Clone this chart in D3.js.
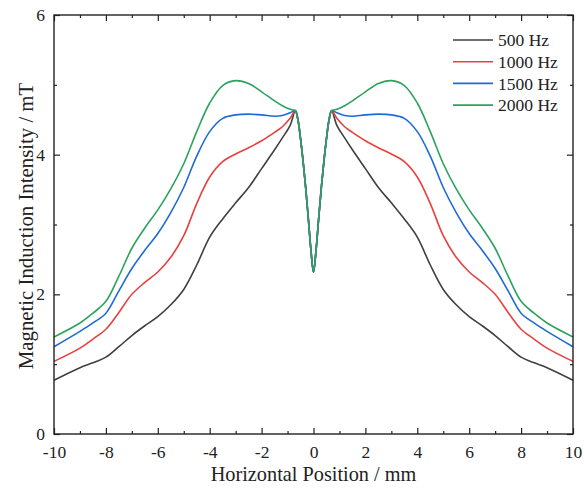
<!DOCTYPE html>
<html><head><meta charset="utf-8">
<script src="https://cdn.jsdelivr.net/npm/d3@7"></script>
<style>body{margin:0;background:#fff}svg{display:block}</style>
</head><body>
<svg id="chart" width="584" height="489"></svg>
<script>
const xPos = [-10,-9,-8.5,-8,-7.5,-7,-6.5,-6,-5.5,-5,-4.5,-4,-3.5,-3,-2.5,-2,-1.5,-1.2,-0.9,-0.7,-0.6,-0.5,-0.4,-0.3,-0.2,-0.1,0,
              0.1,0.2,0.3,0.4,0.5,0.6,0.7,0.9,1.2,1.5,2,2.5,3,3.5,4,4.5,5,5.5,6,6.5,7,7.5,8,8.5,9,10];
const hz500  = [0.77,0.95,1.02,1.10,1.25,1.41,1.55,1.68,1.85,2.07,2.42,2.82,3.08,3.31,3.53,3.80,4.07,4.24,4.42,4.63,4.50,4.23,3.90,3.52,3.09,2.64,2.32,
                2.64,3.09,3.52,3.90,4.23,4.50,4.63,4.42,4.24,4.07,3.80,3.53,3.31,3.08,2.82,2.42,2.07,1.85,1.68,1.55,1.41,1.25,1.10,1.02,0.95,0.77];
const hz1000 = [1.04,1.23,1.36,1.50,1.74,2.00,2.17,2.32,2.53,2.84,3.30,3.68,3.90,4.01,4.10,4.20,4.32,4.40,4.52,4.63,4.50,4.23,3.90,3.52,3.09,2.64,2.32,
                2.64,3.09,3.52,3.90,4.23,4.50,4.63,4.52,4.40,4.32,4.20,4.10,4.01,3.90,3.68,3.30,2.84,2.53,2.32,2.17,2.00,1.74,1.50,1.36,1.23,1.04];
const hz1500 = [1.25,1.47,1.59,1.73,2.05,2.37,2.63,2.87,3.17,3.53,3.98,4.33,4.52,4.57,4.58,4.57,4.55,4.56,4.60,4.63,4.50,4.23,3.90,3.52,3.09,2.64,2.32,
                2.64,3.09,3.52,3.90,4.23,4.50,4.63,4.60,4.56,4.55,4.57,4.58,4.57,4.52,4.33,3.98,3.53,3.17,2.87,2.63,2.37,2.05,1.73,1.59,1.47,1.25];
const hz2000 = [1.39,1.59,1.73,1.90,2.26,2.66,2.95,3.21,3.51,3.87,4.33,4.74,4.99,5.06,5.02,4.90,4.77,4.70,4.65,4.63,4.50,4.23,3.90,3.52,3.09,2.64,2.32,
                2.64,3.09,3.52,3.90,4.23,4.50,4.63,4.65,4.70,4.77,4.90,5.02,5.06,4.99,4.74,4.33,3.87,3.51,3.21,2.95,2.66,2.26,1.90,1.73,1.59,1.39];
const seriesNames = ["500 Hz","1000 Hz","1500 Hz","2000 Hz"];
const seriesColors = ["#404040","#e8413f","#1f6bd6","#2ba25e"];
const xTicks = [-10,-8,-6,-4,-2,0,2,4,6,8,10];
const xMinor = [-9,-7,-5,-3,-1,1,3,5,7,9];
const yTicks = [0,2,4,6];
const yMinor = [1,3,5];

const series = [hz500,hz1000,hz1500,hz2000];
const svg = d3.select("#chart");
const L=54, R=573, T=15, B=434;
const x = d3.scaleLinear().domain([-10,10]).range([L,R]);
const y = d3.scaleLinear().domain([0,6]).range([B,T]);
const font = "'Liberation Serif','Times New Roman',serif";

function axisGroup(axis, tx, ty){
  const g = svg.append("g").attr("transform",`translate(${tx},${ty})`).call(axis);
  g.select(".domain").remove();
  g.selectAll("line").attr("stroke","#222").attr("stroke-width",1.2);
  g.selectAll("text").attr("font-family",font).attr("font-size",17.5).attr("fill","#222");
  return g;
}
const fmt = d => String(d);
axisGroup(d3.axisBottom(x).tickValues(xTicks).tickSizeInner(-6).tickSizeOuter(0).tickPadding(12).tickFormat(fmt),0,B);
axisGroup(d3.axisBottom(x).tickValues(xMinor).tickSizeInner(-3).tickSizeOuter(0).tickFormat(""),0,B);
axisGroup(d3.axisTop(x).tickValues(xTicks).tickSizeInner(-6).tickSizeOuter(0).tickFormat(""),0,T);
axisGroup(d3.axisTop(x).tickValues(xMinor).tickSizeInner(-3).tickSizeOuter(0).tickFormat(""),0,T);
axisGroup(d3.axisLeft(y).tickValues(yTicks).tickSizeInner(-6).tickSizeOuter(0).tickPadding(9).tickFormat(fmt),L,0);
axisGroup(d3.axisLeft(y).tickValues(yMinor).tickSizeInner(-3).tickSizeOuter(0).tickFormat(""),L,0);
axisGroup(d3.axisRight(y).tickValues(yTicks).tickSizeInner(-6).tickSizeOuter(0).tickFormat(""),R,0);
axisGroup(d3.axisRight(y).tickValues(yMinor).tickSizeInner(-3).tickSizeOuter(0).tickFormat(""),R,0);

const line = d3.line().x((d,i)=>x(xPos[i])).y(d=>y(d)).curve(d3.curveCatmullRom.alpha(0.5));
series.forEach((s,k)=>{
  svg.append("path").datum(s).attr("d",line).attr("fill","none")
    .attr("stroke",seriesColors[k]).attr("stroke-width",1.6);
});

svg.append("rect").attr("x",L).attr("y",T).attr("width",R-L).attr("height",B-T)
  .attr("fill","none").attr("stroke","#222").attr("stroke-width",1.4);

// legend
seriesNames.forEach((n,k)=>{
  const yy = 40 + k*21.7;
  svg.append("line").attr("x1",453).attr("x2",493).attr("y1",yy).attr("y2",yy)
    .attr("stroke",seriesColors[k]).attr("stroke-width",1.6);
  svg.append("text").attr("x",498).attr("y",yy).attr("dy","0.35em")
    .attr("font-family",font).attr("font-size",17.5).attr("fill","#222").text(n);
});

svg.append("text").attr("x",(L+R)/2).attr("y",481).attr("text-anchor","middle")
  .attr("font-family",font).attr("font-size",20.3).attr("fill","#222").text("Horizontal Position / mm");
svg.append("text").attr("transform",`translate(33,226) rotate(-90)`).attr("text-anchor","middle")
  .attr("font-family",font).attr("font-size",20.8).attr("fill","#222").text("Magnetic Induction Intensity / mT");
</script>
</body></html>
